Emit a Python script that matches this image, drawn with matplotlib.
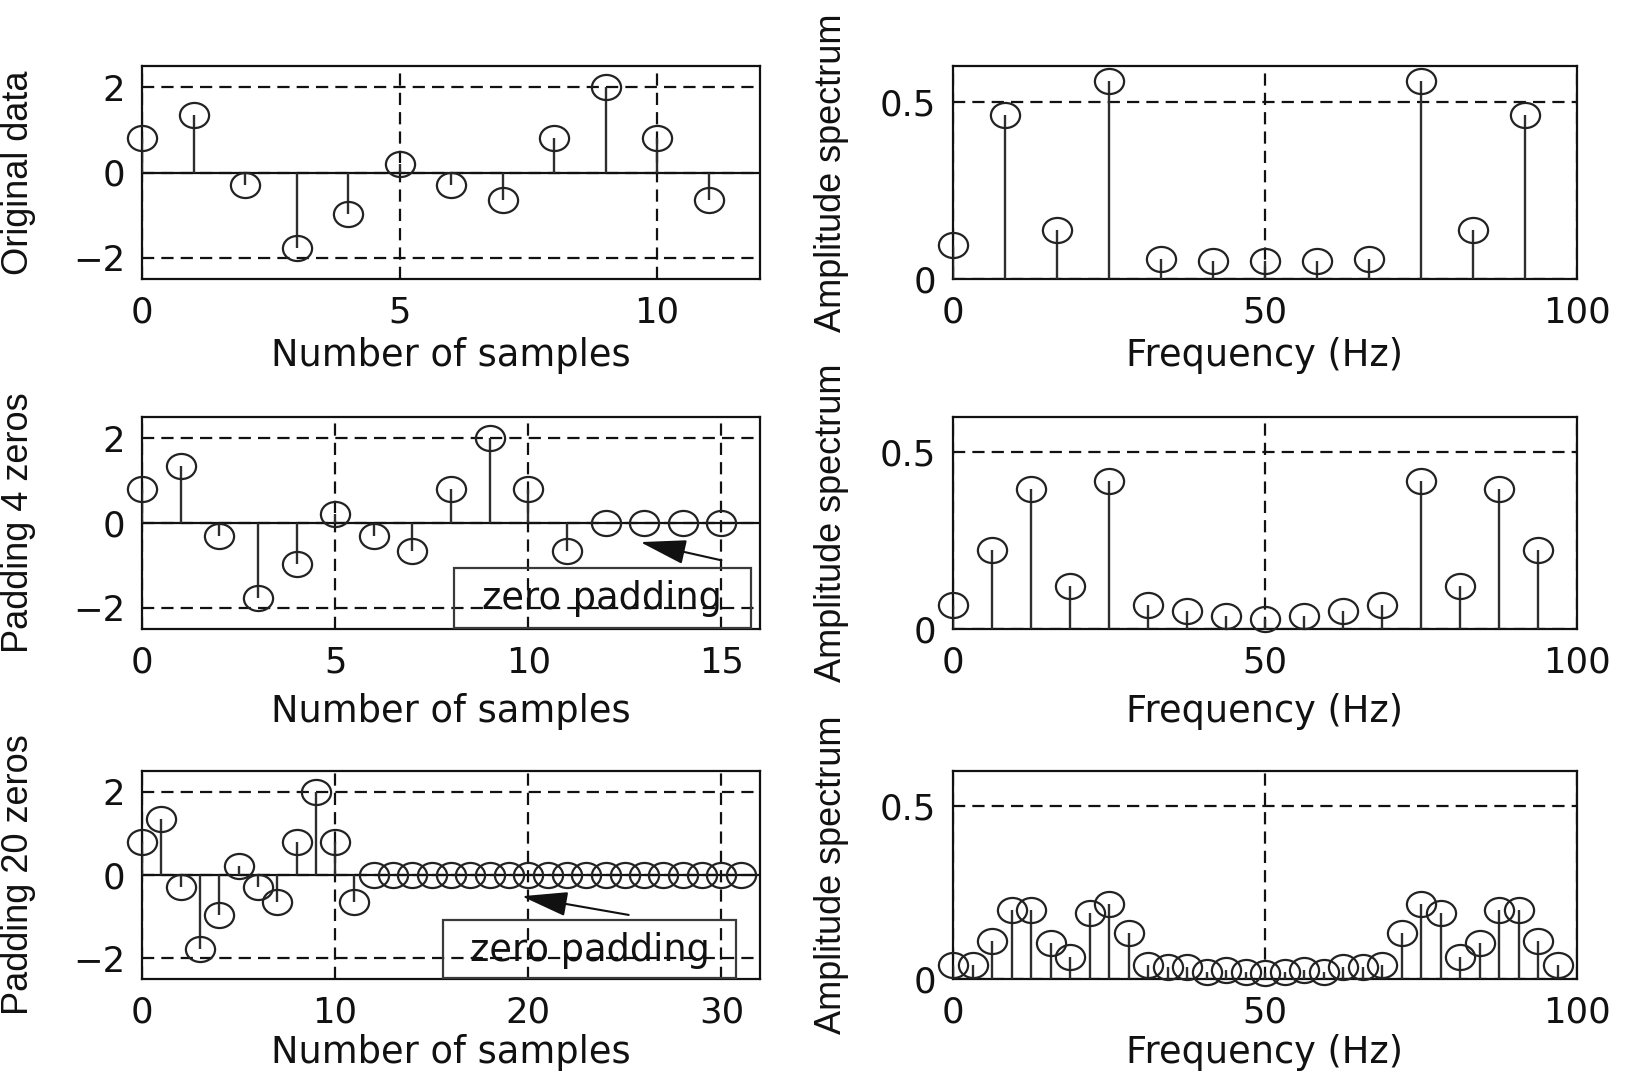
import numpy as np
import matplotlib
matplotlib.use("Agg")
import matplotlib.pyplot as plt
from matplotlib.path import Path
from matplotlib.patches import Rectangle

# ---------------- data ----------------
original_data = [0.80, 1.34, -0.30, -1.78, -0.97, 0.21, -0.30, -0.65, 0.80, 2.00, 0.80, -0.65]
zeros_4 = [0.0, 0.0, 0.0, 0.0]
zeros_20 = [0.0] * 20
padded_4 = original_data + zeros_4
padded_20 = original_data + zeros_20

samples_12 = list(range(12))
samples_16 = list(range(16))
samples_32 = list(range(32))

freq_12 = [0.0, 8.33, 16.67, 25.0, 33.33, 41.67, 50.0, 58.33, 66.67, 75.0, 83.33, 91.67]
amp_12 = [0.097, 0.462, 0.137, 0.557, 0.057, 0.050, 0.050, 0.050, 0.057, 0.557, 0.137, 0.462]

freq_16 = [0.0, 6.25, 12.5, 18.75, 25.0, 31.25, 37.5, 43.75, 50.0, 56.25, 62.5, 68.75,
           75.0, 81.25, 87.5, 93.75]
amp_16 = [0.067, 0.224, 0.397, 0.121, 0.419, 0.067, 0.051, 0.036, 0.028, 0.036, 0.051,
          0.067, 0.419, 0.121, 0.397, 0.224]

freq_32 = [0.0, 3.125, 6.25, 9.375, 12.5, 15.625, 18.75, 21.875, 25.0, 28.125, 31.25,
           34.375, 37.5, 40.625, 43.75, 46.875, 50.0, 53.125, 56.25, 59.375, 62.5,
           65.625, 68.75, 71.875, 75.0, 78.125, 81.25, 84.375, 87.5, 90.625, 93.75, 96.875]
amp_32 = [0.040, 0.040, 0.111, 0.198, 0.198, 0.103, 0.063, 0.191, 0.216, 0.134, 0.040,
          0.035, 0.035, 0.021, 0.026, 0.021, 0.016, 0.021, 0.026, 0.021, 0.035, 0.035,
          0.040, 0.134, 0.216, 0.191, 0.063, 0.103, 0.198, 0.198, 0.111, 0.040]

left_ylabels = ["Original data", "Padding 4 zeros", "Padding 20 zeros"]
left_xlabel = "Number of samples"
right_ylabel = "Amplitude spectrum"
right_xlabel = "Frequency (Hz)"
left_xticks = [[0, 5, 10], [0, 5, 10, 15], [0, 10, 20, 30]]
left_xlims = [12, 16, 32]
left_yticks = [-2, 0, 2]
right_xticks = [0, 50, 100]
right_yticks = [0, 0.5]
note_text = "zero padding"

# ---------------- style ----------------
plt.rcParams["font.family"] = ["DejaVu Sans"]
FS = 25.5
FS_LABEL = 26.5
INK = "#111111"
STEM = "#2e2e2e"
DASH = (0, (5.5, 3.2))

circ = Path.unit_circle()
ellipse_marker = Path(circ.vertices * np.array([1.0, 0.86]), circ.codes)

fig = plt.figure(figsize=(16.37, 10.73), dpi=100)
W, H = 1637.0, 1073.0

rows_px = [(66, 279), (417, 629), (771, 979)]
left_px = (142, 760)
right_px = (953, 1577)
xlabel_offsets = [58, 64, 55]


def make_ax(xpx, ypx):
    x0, x1 = xpx
    y0, y1 = ypx
    return fig.add_axes([x0 / W, 1 - y1 / H, (x1 - x0) / W, (y1 - y0) / H])


def style_ax(ax):
    for s in ax.spines.values():
        s.set_linewidth(1.6)
        s.set_color(INK)
    ax.tick_params(length=0, labelsize=FS, colors=INK, pad=12)
    ax.grid(True, linestyle=DASH, color=INK, linewidth=1.6)
    ax.set_axisbelow(True)


def draw_stems(ax, x, y):
    markerline, stemlines, baseline = ax.stem(x, y, basefmt=" ")
    markerline.set_marker(ellipse_marker)
    markerline.set_markersize(21)
    markerline.set_markerfacecolor("none")
    markerline.set_markeredgecolor("#222222")
    markerline.set_markeredgewidth(1.6)
    markerline.set_linestyle("none")
    markerline.set_clip_on(False)
    markerline.set_zorder(4)
    stemlines.set_color(STEM)
    stemlines.set_linewidth(1.7)
    stemlines.set_zorder(3)


left_data = [(samples_12, original_data), (samples_16, padded_4), (samples_32, padded_20)]
right_data = [(freq_12, amp_12), (freq_16, amp_16), (freq_32, amp_32)]

notes = [
    None,
    dict(box=(8.08, -2.47, 7.69, 1.41), text=(11.9, -1.79), tail=(15.0, -0.88), head=(12.9, -0.45)),
    dict(box=(15.56, -2.47, 15.21, 1.39), text=(23.2, -1.82), tail=(25.2, -0.96), head=(19.66, -0.51)),
]

for i, ypx in enumerate(rows_px):
    hpx = ypx[1] - ypx[0]
    off = xlabel_offsets[i]
    # left column
    ax = make_ax(left_px, ypx)
    style_ax(ax)
    x, y = left_data[i]
    ax.axhline(0, color=INK, linewidth=1.6, zorder=2)
    draw_stems(ax, x, y)
    ax.set_xlim(0, left_xlims[i])
    ax.set_ylim(-2.5, 2.5)
    ax.set_xticks(left_xticks[i])
    ax.set_yticks(left_yticks)
    ax.set_ylabel(left_ylabels[i], family=["Liberation Sans", "DejaVu Sans"], fontsize=26, color=INK)
    ax.yaxis.set_label_coords(-(142 - 36) / 618.0, 0.5)
    ax.set_xlabel(left_xlabel, fontsize=FS_LABEL, color=INK, va="top")
    ax.xaxis.set_label_coords(0.5, -off / hpx)
    n = notes[i]
    if n is not None:
        bx, by, bw, bh = n["box"]
        ax.add_patch(Rectangle((bx, by), bw, bh, fill=False, edgecolor="#3a3a3a",
                               linewidth=1.6, zorder=5))
        ax.text(n["text"][0], n["text"][1], note_text, ha="center", va="center",
                fontsize=FS_LABEL, color=INK, zorder=5)
        ax.annotate("", xy=n["head"], xytext=n["tail"],
                    arrowprops=dict(arrowstyle="-|>,head_length=1.2,head_width=0.32",
                                    color=INK, lw=1.5, shrinkA=0, shrinkB=0,
                                    mutation_scale=24), zorder=6)

    # right column
    ax = make_ax(right_px, ypx)
    style_ax(ax)
    fx, fy = right_data[i]
    draw_stems(ax, fx, fy)
    ax.set_xlim(0, 100)
    ax.set_ylim(0, 0.6)
    ax.set_xticks(right_xticks)
    ax.set_yticks(right_yticks)
    ax.set_yticklabels(["0", "0.5"])
    ax.set_ylabel(right_ylabel, family=["Liberation Sans", "DejaVu Sans"], fontsize=26, color=INK)
    ax.yaxis.set_label_coords(-(953 - 849) / 624.0, 0.5)
    ax.set_xlabel(right_xlabel, fontsize=FS_LABEL, color=INK, va="top")
    ax.xaxis.set_label_coords(0.5, -off / hpx)

fig.savefig("out.png", dpi=100)
